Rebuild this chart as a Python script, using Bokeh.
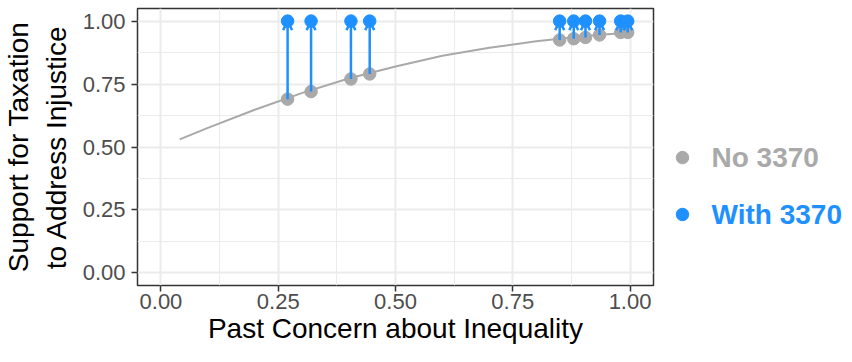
from bokeh.plotting import figure
from bokeh.layouts import row
from bokeh.models import ColumnDataSource, Arrow, OpenHead, FixedTicker, Range1d
from bokeh.core.properties import value
from bokeh.embed import file_html
from bokeh.resources import INLINE

# Data
concern = [0.27, 0.32, 0.405, 0.445, 0.85, 0.88, 0.905, 0.935, 0.98, 0.995]
support_no = [0.69, 0.72, 0.77, 0.79, 0.925, 0.93, 0.935, 0.945, 0.955, 0.955]
support_with = [1.0, 1.0, 1.0, 1.0, 1.0, 1.0, 1.0, 1.0, 1.0, 1.0]

curve_x = [0.04, 0.1, 0.2, 0.3, 0.4, 0.5, 0.6, 0.7, 0.8, 0.9, 1.0]
curve_y = [0.53, 0.576, 0.648, 0.714, 0.772, 0.82, 0.862, 0.894, 0.92, 0.94, 0.955]

ticks = [0.0, 0.25, 0.5, 0.75, 1.0]
tick_labels = ["0.00", "0.25", "0.50", "0.75", "1.00"]
minor = [0.125, 0.375, 0.625, 0.875]

legend_labels = ["No 3370", "With 3370"]

GRAY = "#A9A9A9"
BLUE = "#1E90FF"
FONT = "Liberation Sans"
H = 346

yr = Range1d(-0.05, 1.05)
p = figure(width=661, height=H, output_backend="svg", toolbar_location=None,
           x_range=Range1d(-0.05, 1.05), y_range=yr,
           min_border_left=135, min_border_right=8, min_border_top=8, min_border_bottom=40)

p.background_fill_color = "white"
p.border_fill_color = "white"
p.outline_line_color = "#333333"
p.outline_line_width = 1.5

for ax, lab in ((p.xaxis[0], "Past Concern about Inequality"),
                (p.yaxis[0], "Support for Taxation\nto Address Injustice")):
    ax.ticker = FixedTicker(ticks=ticks, minor_ticks=minor)
    ax.major_label_overrides = {t: l for t, l in zip(ticks, tick_labels)}
    ax.axis_line_color = None
    ax.major_tick_line_color = "#333333"
    ax.major_tick_line_width = 1.5
    ax.major_tick_out = 6
    ax.major_tick_in = 0
    ax.minor_tick_line_color = None
    ax.major_label_text_font = FONT
    ax.major_label_text_font_size = "22px"
    ax.major_label_text_color = "#4D4D4D"
    ax.axis_label = lab
    ax.axis_label_text_font = FONT
    ax.axis_label_text_font_size = "28px"
    ax.axis_label_text_font_style = "normal"
    ax.axis_label_text_color = "black"

p.xaxis.major_label_standoff = 2
p.yaxis.major_label_standoff = 6
p.xaxis.axis_label_standoff = 1
p.yaxis.axis_label_standoff = 8

for g in (p.xgrid[0], p.ygrid[0]):
    g.ticker = FixedTicker(ticks=ticks, minor_ticks=minor)
    g.grid_line_color = "#EBEBEB"
    g.grid_line_width = 2
    g.minor_grid_line_color = "#EBEBEB"
    g.minor_grid_line_width = 1

p.line(curve_x, curve_y, line_color=GRAY, line_width=2)

src = ColumnDataSource(dict(x=concern, y0=support_no, y1=support_with))
arrow = Arrow(source=src, x_start="x", y_start="y0", x_end="x", y_end="y1",
              line_color=BLUE, line_width=2.5,
              end=OpenHead(size=9, line_color=BLUE, line_width=2.5))
p.add_layout(arrow)

p.scatter(concern, support_no, size=12.5, fill_color=GRAY, line_color=GRAY)
p.scatter(concern, support_with, size=12.5, fill_color=BLUE, line_color=BLUE)

# legend panel as a separate figure sharing the vertical scale
lw = 183
lg = figure(width=lw, height=H, output_backend="svg", toolbar_location=None,
            x_range=Range1d(0, lw), y_range=yr,
            x_axis_location=None, y_axis_location=None,
            min_border=0, outline_line_color=None)
lg.grid.visible = False
lg.background_fill_color = "white"
lg.border_fill_color = "white"

# legend entry placement (layout only)
leg_src = ColumnDataSource(dict(
    x=[21, 21], tx=[50, 50], y=[0.458, 0.232],
    label=legend_labels, color=[GRAY, BLUE]))
lg.scatter("x", "y", source=leg_src, size=12.5, fill_color="color", line_color="color")
lg.text("tx", "y", text="label", source=leg_src, text_color="color",
        text_font=value(FONT), text_font_style="bold", text_font_size="28px",
        text_baseline="middle", text_align="left")

layout = row(p, lg, spacing=0)
open("out.html", "w").write(file_html(layout, INLINE))
